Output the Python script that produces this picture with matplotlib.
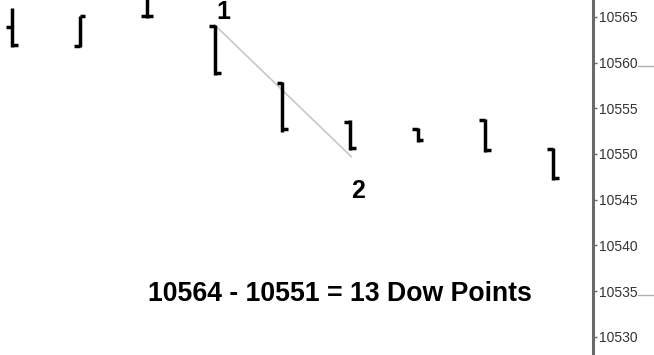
import matplotlib

matplotlib.use("Agg")
import matplotlib.pyplot as plt
from matplotlib import transforms

# OHLC values (Dow intraday bars)
opens = [10563.9, 10561.8, 10565.1, 10564.0, 10557.8, 10553.5, 10552.7, 10553.7, 10550.5]
highs = [10566.0, 10565.1, 10568.0, 10564.1, 10557.9, 10553.7, 10552.8, 10553.8, 10550.7]
lows = [10561.7, 10561.7, 10564.9, 10558.6, 10552.4, 10550.4, 10551.3, 10550.2, 10547.2]
closes = [10561.9, 10565.1, 10565.1, 10558.9, 10552.7, 10550.65, 10551.5, 10550.4, 10547.4]

# swing line from point 1 to point 2
swing_x = [3, 5.02]
swing_y = [10564.1, 10549.7]
swing_labels = ["1", "2"]
swing_label_pos = [(3.12, 10565.5), (5.12, 10546.0)]

y_ticks = [10530, 10535, 10540, 10545, 10550, 10555, 10560, 10565]
marked_levels = [10560, 10535]
caption = "10564 - 10551 = 13 Dow Points"

FONT = ["Liberation Sans", "DejaVu Sans"]

fig = plt.figure(figsize=(6.54, 3.55), dpi=100)
ax = fig.add_axes([0, 0, 593 / 654, 1])

ax.plot(swing_x, swing_y, color="#c8c8c8", linewidth=1.2, zorder=1)

tick_w = 0.085
for i, (o, h, l, c) in enumerate(zip(opens, highs, lows, closes)):
    ax.plot([i, i], [l, h], color="black", linewidth=2.5, solid_capstyle="butt", zorder=3)
    ax.plot([i - tick_w, i], [o, o], color="black", linewidth=2.5, solid_capstyle="butt", zorder=3)
    ax.plot([i, i + tick_w], [c, c], color="black", linewidth=2.5, solid_capstyle="butt", zorder=3)

for label, (lx, ly) in zip(swing_labels, swing_label_pos):
    ax.text(lx, ly, label, fontsize=18, fontweight="bold", ha="center", va="center",
            family=FONT)

ax.set_xlim(-0.178, 8.595)
ax.set_ylim(10528.0, 10566.85)

for side in ("left", "top", "bottom"):
    ax.spines[side].set_visible(False)
ax.spines["right"].set_color("#6a6a6a")
ax.spines["right"].set_linewidth(2.2)
ax.set_xticks([])
ax.yaxis.tick_right()
ax.set_yticks(y_ticks)
ax.set_yticklabels([str(t) for t in y_ticks])
ax.tick_params(axis="y", direction="out", length=3, width=1, color="#6a6a6a",
               labelsize=10, labelcolor="#333333", pad=1)
for lbl in ax.get_yticklabels():
    lbl.set_family(FONT)

# short grey marks to the right of some labels
trans = transforms.blended_transform_factory(fig.transFigure, ax.transData)
for lev in marked_levels:
    ax.plot([638 / 654, 1.0], [lev - 0.4, lev - 0.4], color="#b0b0b0", linewidth=1,
            transform=trans, clip_on=False)

fig.text(0.52, 0.172, caption, fontsize=19.2, fontweight="bold", ha="center", va="center",
         family=FONT)

fig.savefig("out.png", dpi=100, facecolor="white")
